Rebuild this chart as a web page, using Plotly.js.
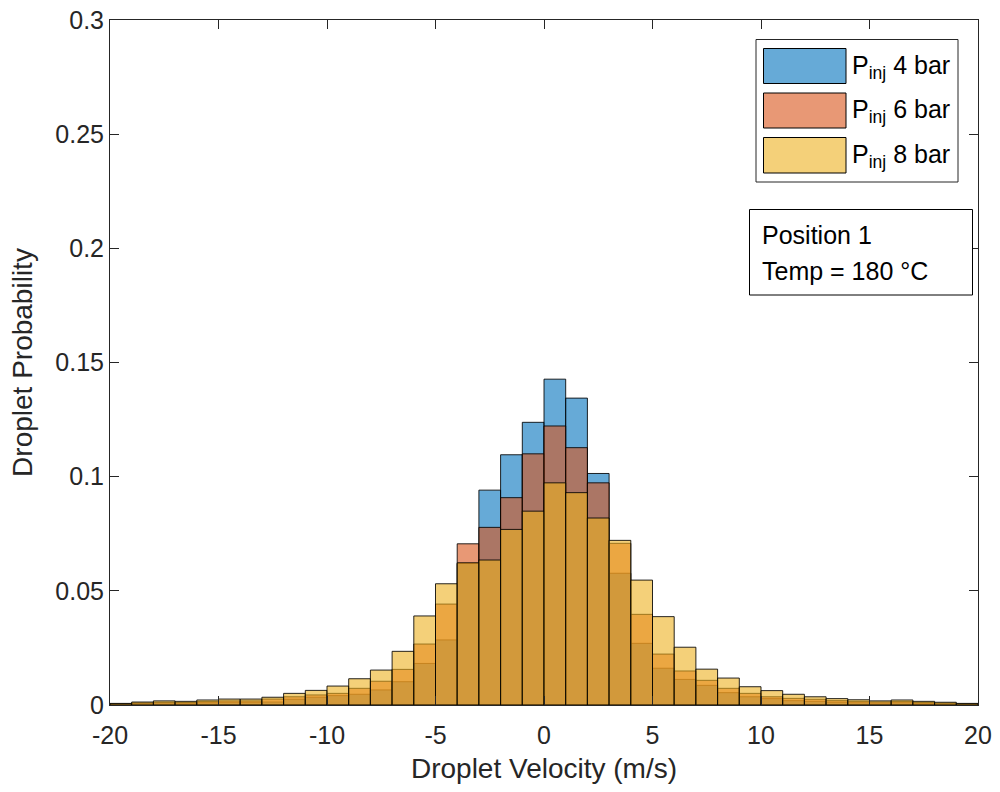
<!DOCTYPE html>
<html>
<head>
<meta charset="utf-8">
<script src="https://cdn.plot.ly/plotly-3.0.1.min.js"></script>
<style>html,body{margin:0;padding:0;background:#fff;}#chart{width:1000px;height:792px;}</style>
</head>
<body>
<div id="chart"></div>
<script>
// Bin centres (bin width 1 m/s, edges at integers from -20 to 20)
const binCenters = [-19.5,-18.5,-17.5,-16.5,-15.5,-14.5,-13.5,-12.5,-11.5,-10.5,
  -9.5,-8.5,-7.5,-6.5,-5.5,-4.5,-3.5,-2.5,-1.5,-0.5,
  0.5,1.5,2.5,3.5,4.5,5.5,6.5,7.5,8.5,9.5,
  10.5,11.5,12.5,13.5,14.5,15.5,16.5,17.5,18.5,19.5];

const p4bar = [0.0004,0.0007,0.0009,0.0008,0.0010,0.0012,0.0012,0.0013,0.0025,0.0034,
  0.0041,0.0047,0.0066,0.0102,0.0182,0.0285,0.0620,0.0941,0.1096,0.1238,
  0.1427,0.1344,0.1014,0.0577,0.0270,0.0161,0.0112,0.0086,0.0054,0.0036,
  0.0028,0.0019,0.0016,0.0012,0.0010,0.0008,0.0010,0.0007,0.0005,0.0003];

const p6bar = [0.0005,0.0009,0.0012,0.0011,0.0015,0.0018,0.0018,0.0026,0.0036,0.0044,
  0.0051,0.0073,0.0104,0.0156,0.0267,0.0442,0.0706,0.0778,0.0908,0.1100,
  0.1222,0.1127,0.0973,0.0708,0.0397,0.0223,0.0149,0.0108,0.0073,0.0051,
  0.0036,0.0029,0.0025,0.0019,0.0016,0.0013,0.0015,0.0011,0.0008,0.0005];

const p8bar = [0.0007,0.0013,0.0018,0.0016,0.0022,0.0026,0.0026,0.0034,0.0051,0.0064,
  0.0083,0.0115,0.0153,0.0235,0.0390,0.0531,0.0623,0.0635,0.0769,0.0849,
  0.0973,0.0930,0.0819,0.0721,0.0547,0.0387,0.0253,0.0157,0.0118,0.0080,
  0.0063,0.0047,0.0036,0.0028,0.0023,0.0018,0.0022,0.0016,0.0012,0.0007];

const seriesNames = ['P<sub>inj</sub> 4 bar','P<sub>inj</sub> 6 bar','P<sub>inj</sub> 8 bar'];
const seriesColors = ['rgba(0,114,189,0.6)','rgba(217,83,25,0.6)','rgba(237,177,32,0.6)'];
const xTicks = [-20,-15,-10,-5,0,5,10,15,20];
const yTicks = [0,0.05,0.1,0.15,0.2,0.25,0.3];
const yTickText = ['0','0.05','0.1','0.15','0.2','0.25','0.3'];
const infoLines = ['Position 1','Temp = 180 °C'];

const FONT = 'Liberation Sans, Arial, sans-serif';
const TXT = '#262626';
const allSeries = [p4bar, p6bar, p8bar];

const traces = allSeries.map((ys, i) => ({
  type: 'bar',
  x: binCenters,
  y: ys,
  width: 1,
  name: seriesNames[i],
  marker: {color: seriesColors[i], line: {color: 'rgba(0,0,0,0.85)', width: 1}},
  showlegend: false,
  hoverinfo: 'x+y'
}));

// Plot-area pixel -> paper helpers (plot area 868 x 685)
const W = 868, H = 685, L = 110, T = 20;
const px = v => (v - L) / W;
const py = v => (T + H - v) / H;

const shapes = [];
const annotations = [];
// Legend box
shapes.push({type:'rect', xref:'paper', yref:'paper', x0:px(756), x1:px(958), y0:py(182), y1:py(39.5),
  line:{color:TXT, width:1}, fillcolor:'#fff', layer:'above'});
const rows = [[48.5,83.5],[93,128],[137.5,173]];
rows.forEach((r, i) => {
  shapes.push({type:'rect', xref:'paper', yref:'paper', x0:px(763.5), x1:px(846), y0:py(r[1]), y1:py(r[0]),
    line:{color:'#000', width:1}, fillcolor:seriesColors[i], layer:'above'});
  annotations.push({xref:'paper', yref:'paper', x:px(850), y:py((r[0]+r[1])/2 + 1), xanchor:'left', yanchor:'middle',
    text: seriesNames[i], showarrow:false, font:{family:FONT, size:25, color:'#000'}});
});
// Info box
shapes.push({type:'rect', xref:'paper', yref:'paper', x0:px(749.5), x1:px(972.5), y0:py(295), y1:py(209.5),
  line:{color:'#000', width:1}, fillcolor:'#fff', layer:'above'});
const infoY = [235, 271];
infoLines.forEach((t, i) => {
  annotations.push({xref:'paper', yref:'paper', x:px(760), y:py(infoY[i]), xanchor:'left', yanchor:'middle', align:'left',
    text: t, showarrow:false, font:{family:FONT, size:25, color:'#000'}});
});

const axisCommon = {
  showline: true, linecolor: TXT, linewidth: 1, mirror: 'ticks',
  ticks: 'inside', ticklen: 9, tickwidth: 1, tickcolor: TXT,
  showgrid: false, zeroline: false,
  tickfont: {family: FONT, size: 25, color: TXT}
};

const layout = {
  width: 1000, height: 792,
  margin: {l: L, r: 1000 - L - W, t: T, b: 792 - T - H},
  paper_bgcolor: '#fff', plot_bgcolor: '#fff',
  barmode: 'overlay', bargap: 0,
  xaxis: Object.assign({}, axisCommon, {
    range: [-20, 20], tickvals: xTicks, ticktext: xTicks.map(String),
    ticklabelstandoff: 8,
    title: {text: 'Droplet Velocity (m/s)', font: {family: FONT, size: 28, color: TXT}, standoff: 10}
  }),
  yaxis: Object.assign({}, axisCommon, {
    range: [0, 0.3], tickvals: yTicks, ticktext: yTickText,
    title: {text: 'Droplet Probability', font: {family: FONT, size: 28, color: TXT}, standoff: 14}
  }),
  shapes: shapes,
  annotations: annotations,
  showlegend: false
};

Plotly.newPlot('chart', traces, layout, {displayModeBar: false, staticPlot: true});
</script>
</body>
</html>
